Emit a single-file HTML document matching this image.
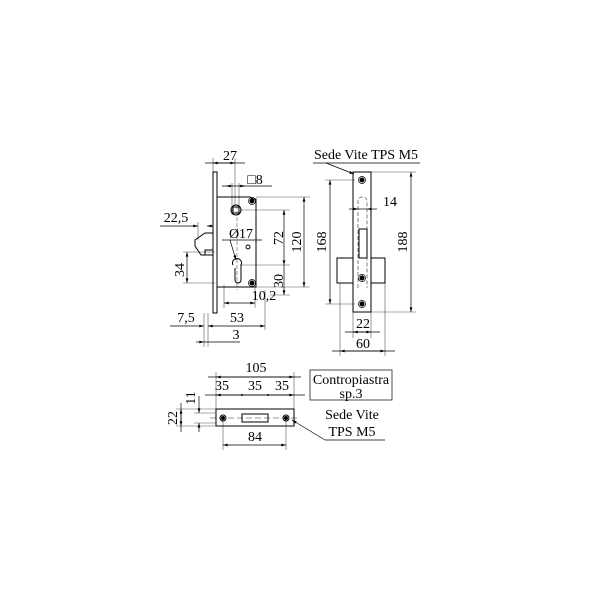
<!DOCTYPE html>
<html><head><style>html,body{margin:0;padding:0;background:#fff}svg{display:block}</style></head>
<body>
<svg width="600" height="600" viewBox="0 0 600 600" xmlns="http://www.w3.org/2000/svg" font-family="Liberation Serif, serif" font-size="14" fill="none" stroke="#000">
<defs>
<marker id="a" viewBox="0 0 10 6" refX="10" refY="3" markerWidth="7" markerHeight="4" orient="auto-start-reverse"><path d="M0,0L10,3L0,6z" fill="#000" stroke="none"/></marker>
</defs>
<g stroke-width="0.6" stroke="#555">
<line x1="213" y1="158" x2="213" y2="172"/><line x1="235" y1="158" x2="235" y2="205"/>
<line x1="232" y1="183" x2="232" y2="215"/><line x1="239" y1="183" x2="239" y2="215"/>
<line x1="256" y1="197" x2="310" y2="197"/><line x1="256" y1="287" x2="310" y2="287"/>
<line x1="240" y1="210" x2="290" y2="210"/><line x1="240" y1="265" x2="290" y2="265"/>
<line x1="198" y1="222" x2="198" y2="240"/><line x1="213" y1="222" x2="213" y2="240"/>
<line x1="183" y1="252" x2="215" y2="252"/><line x1="183" y1="283" x2="215" y2="283"/>
<line x1="224" y1="285" x2="224" y2="308"/><line x1="255" y1="287" x2="255" y2="308"/>
<line x1="265" y1="290" x2="265" y2="330"/><line x1="204" y1="313" x2="204" y2="347"/>
<line x1="208" y1="313" x2="208" y2="347"/>
<line x1="270" y1="295" x2="290" y2="295"/>
</g>
<g stroke-width="0.7" marker-start="url(#a)" marker-end="url(#a)">
<line x1="213" y1="163" x2="235" y2="163"/>
<line x1="304" y1="197" x2="304" y2="287"/>
<line x1="284" y1="210" x2="284" y2="265"/>
<line x1="187" y1="252" x2="187" y2="283"/>
<line x1="224" y1="303" x2="255" y2="303"/>
<line x1="208" y1="326" x2="265" y2="326"/>
</g>
<g stroke-width="0.7">
<line x1="205" y1="163" x2="245" y2="163"/>
<line x1="222" y1="186" x2="272" y2="186"/>
<line x1="232" y1="186" x2="226" y2="186" marker-end="url(#a)"/><line x1="239" y1="186" x2="245" y2="186" marker-end="url(#a)"/>
<line x1="160" y1="226" x2="198" y2="226" marker-end="url(#a)"/><line x1="213" y1="226" x2="207" y2="226" marker-end="url(#a)"/>
<line x1="284" y1="265" x2="284" y2="295" marker-end="url(#a)"/>
<line x1="170" y1="326" x2="204" y2="326" marker-end="url(#a)"/>
<line x1="204" y1="342" x2="240" y2="342"/><line x1="196" y1="342" x2="204" y2="342" marker-end="url(#a)"/>
<line x1="230" y1="240" x2="236" y2="260" marker-end="url(#a)"/>
<line x1="222" y1="240" x2="262" y2="240"/>
</g>
<g stroke-width="1">
<rect x="213" y="172" width="4" height="141"/>
<path d="M217,197 H250 L253,199 H256 V287 H217"/>
<circle cx="236" cy="210" r="5"/><rect x="233" y="207" width="6" height="6"/>
<circle cx="252" cy="201" r="3.5" stroke-width="0.7"/><circle cx="252" cy="201" r="2" fill="#000"/>
<circle cx="252" cy="283" r="3.5" stroke-width="0.7"/><circle cx="252" cy="283" r="2" fill="#000"/>
<circle cx="248" cy="247" r="2"/>
<path d="M233,265 A4.5,4.5 0 1 1 241,265 V280 A2,2 0 0 1 235,280 V268"/>
<path d="M213,233 H205 L195,240 V246 L201,255 H213 M205,255 V250 H213" />
</g>
<line x1="237" y1="205" x2="237" y2="290" stroke-width="0.4" stroke-dasharray="4,2"/>
<g fill="#000" stroke="none">
<text x="230" y="160" text-anchor="middle">27</text>
<text x="255" y="184" text-anchor="middle">□8</text>
<text x="176" y="222" text-anchor="middle">22,5</text>
<text x="241" y="238" text-anchor="middle">Ø17</text>
<text x="264" y="300" text-anchor="middle">10,2</text>
<text x="186" y="322" text-anchor="middle">7,5</text>
<text x="237" y="322" text-anchor="middle">53</text>
<text x="236" y="339" text-anchor="middle">3</text>
<text transform="translate(283,238) rotate(-90)" text-anchor="middle">72</text>
<text transform="translate(283,281) rotate(-90)" text-anchor="middle">30</text>
<text transform="translate(301,242) rotate(-90)" text-anchor="middle">120</text>
<text transform="translate(184,270) rotate(-90)" text-anchor="middle">34</text>
</g>

<g stroke-width="0.6" stroke="#555">
<line x1="325" y1="180" x2="355" y2="180"/><line x1="325" y1="304" x2="355" y2="304"/>
<line x1="371" y1="172" x2="416" y2="172"/><line x1="371" y1="312" x2="416" y2="312"/>
<line x1="353" y1="312" x2="353" y2="338"/><line x1="371" y1="312" x2="371" y2="338"/>
<line x1="340" y1="283" x2="340" y2="356"/><line x1="385" y1="283" x2="385" y2="356"/>
</g>
<g stroke-width="0.7" marker-start="url(#a)" marker-end="url(#a)">
<line x1="330" y1="180" x2="330" y2="304"/>
<line x1="411" y1="172" x2="411" y2="312"/>
<line x1="353" y1="332" x2="371" y2="332"/>
<line x1="340" y1="351" x2="385" y2="351"/>
</g>
<g stroke-width="0.7">
<line x1="349" y1="209" x2="358" y2="209" marker-end="url(#a)"/><line x1="377" y1="209" x2="367" y2="209" marker-end="url(#a)"/>
<line x1="358" y1="209" x2="367" y2="209"/>
<line x1="313" y1="163" x2="420" y2="163"/>
<line x1="326" y1="163" x2="354" y2="174" marker-end="url(#a)"/>
<line x1="345" y1="332" x2="380" y2="332"/><line x1="332" y1="351" x2="395" y2="351"/>
</g>
<g stroke-width="1">
<rect x="353" y="172" width="18" height="140"/>
<path d="M353,258 H337 V283 H353 M371,258 H385 V283 H371"/>
<rect x="359" y="229" width="8" height="29"/>
<circle cx="362" cy="180" r="3.5" stroke-width="0.7"/><circle cx="362" cy="180" r="2" fill="#000"/>
<circle cx="362" cy="278" r="3.5" stroke-width="0.7"/><circle cx="362" cy="278" r="2" fill="#000"/>
<circle cx="362" cy="304" r="3.5" stroke-width="0.7"/><circle cx="362" cy="304" r="2" fill="#000"/>
</g>
<path d="M358,288 V201 Q358,197 362,197 Q367,197 367,201 V288" stroke-width="0.5" stroke-dasharray="4,2"/>
<g fill="#000" stroke="none">
<text x="366" y="159" text-anchor="middle">Sede Vite TPS M5</text>
<text x="390" y="206" text-anchor="middle">14</text>
<text x="363" y="328" text-anchor="middle">22</text>
<text x="363" y="348" text-anchor="middle">60</text>
<text transform="translate(326,242) rotate(-90)" text-anchor="middle">168</text>
<text transform="translate(407,242) rotate(-90)" text-anchor="middle">188</text>
</g>

<g stroke-width="0.6" stroke="#555">
<line x1="216" y1="372" x2="216" y2="409"/><line x1="294" y1="372" x2="294" y2="409"/>
<line x1="223" y1="420" x2="223" y2="450"/><line x1="286" y1="420" x2="286" y2="450"/>
<line x1="176" y1="409" x2="216" y2="409"/><line x1="176" y1="426" x2="216" y2="426"/>
<line x1="194" y1="413" x2="216" y2="413"/><line x1="194" y1="423" x2="216" y2="423"/>
</g>
<g stroke-width="0.7" marker-start="url(#a)" marker-end="url(#a)">
<line x1="216" y1="377" x2="294" y2="377"/>
<line x1="216" y1="395" x2="294" y2="395"/>
<line x1="181" y1="409" x2="181" y2="426"/>
<line x1="223" y1="445" x2="286" y2="445"/>
</g>
<g stroke-width="0.7">
<line x1="208" y1="377" x2="301" y2="377"/><line x1="205" y1="395" x2="305" y2="395"/>
<line x1="199" y1="396" x2="199" y2="413" marker-end="url(#a)"/><line x1="199" y1="432" x2="199" y2="423" marker-end="url(#a)"/>
<line x1="181" y1="403" x2="181" y2="432"/>
<line x1="325" y1="440" x2="292" y2="420" marker-end="url(#a)"/><line x1="325" y1="440" x2="385" y2="440"/>
<rect x="310" y="370" width="82" height="30"/>
</g>
<circle cx="242" cy="395" r="1" fill="#000" stroke="none"/><circle cx="268" cy="395" r="1" fill="#000" stroke="none"/>
<g stroke-width="1">
<rect x="216" y="409" width="78" height="17"/>
<rect x="242" y="414" width="26" height="8"/>
<circle cx="223" cy="418" r="3"/><circle cx="223" cy="418" r="1.5" fill="#000"/>
<circle cx="286" cy="418" r="3"/><circle cx="286" cy="418" r="1.5" fill="#000"/>
</g>
<line x1="210" y1="418" x2="300" y2="418" stroke-width="0.4" stroke-dasharray="6,3"/>
<g fill="#000" stroke="none">
<text x="256" y="372" text-anchor="middle">105</text>
<text x="222" y="390" text-anchor="middle">35</text>
<text x="255" y="390" text-anchor="middle">35</text>
<text x="282" y="390" text-anchor="middle">35</text>
<text x="351" y="384" text-anchor="middle">Contropiastra</text>
<text x="351" y="398" text-anchor="middle">sp.3</text>
<text x="352" y="419" text-anchor="middle">Sede Vite</text>
<text x="352" y="436" text-anchor="middle">TPS M5</text>
<text x="255" y="441" text-anchor="middle">84</text>
<text transform="translate(195,398) rotate(-90)" text-anchor="middle">11</text>
<text transform="translate(177,418) rotate(-90)" text-anchor="middle">22</text>
</g>
</svg>
</body></html>
